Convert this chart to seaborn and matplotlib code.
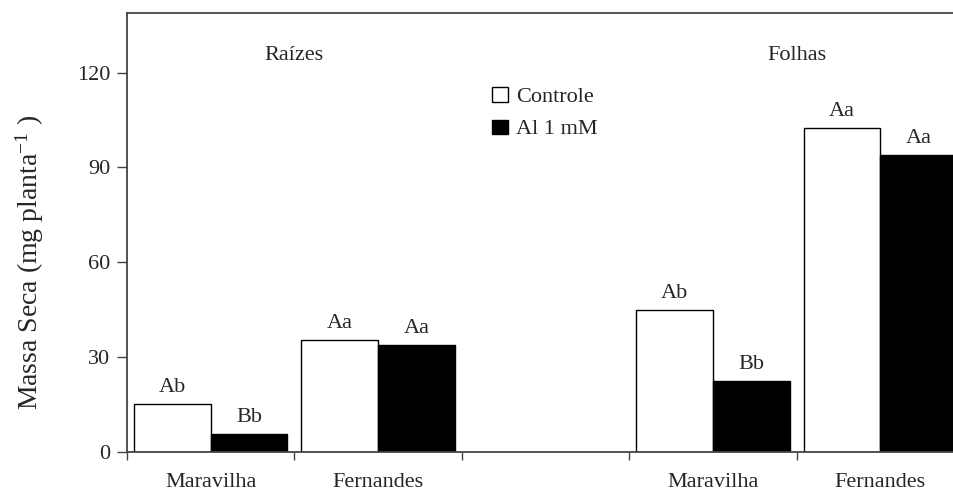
import matplotlib
matplotlib.use("Agg")
import matplotlib.pyplot as plt
from matplotlib.patches import Patch
import numpy as np
import pandas as pd
import seaborn as sns

# Dry mass per plant (mg) for two cultivars, roots and leaves
organs = ["Raízes", "Raízes", "Folhas", "Folhas"]
cultivars = ["Maravilha", "Fernandes", "Maravilha", "Fernandes"]
controle = [15.2, 35.5, 44.8, 102.6]
aluminio = [5.7, 33.9, 22.5, 94.1]
letras_controle = ["Ab", "Aa", "Ab", "Aa"]
letras_aluminio = ["Bb", "Aa", "Bb", "Aa"]
tratamentos = ["Controle", "Al 1 mM"]
yticks = [0, 30, 60, 90, 120]

sns.set_style("ticks")
plt.rcParams["font.family"] = ["Liberation Serif", "DejaVu Serif"]
plt.rcParams["mathtext.fontset"] = "custom"
plt.rcParams["mathtext.rm"] = "Liberation Serif"
plt.rcParams["mathtext.it"] = "Liberation Serif:italic"

slots = [f"{o} {c}" for o, c in zip(organs, cultivars)]
order = slots[:2] + ["-"] + slots[2:]

df = pd.DataFrame({
    "slot": slots * 2,
    "tratamento": [tratamentos[0]] * 4 + [tratamentos[1]] * 4,
    "massa": controle + aluminio,
})

fig = plt.figure(figsize=(9.54, 4.92), dpi=100)
ax = fig.add_axes([127 / 954, 40.3 / 492, 837 / 954, 439 / 492])

sns.barplot(data=df, x="slot", y="massa", hue="tratamento", order=order,
            hue_order=tratamentos, palette={"Controle": "white", "Al 1 mM": "black"},
            edgecolor="black", linewidth=1.0, width=0.916, saturation=1,
            errorbar=None, legend=False, ax=ax)

for cont, letras in zip(ax.containers, [letras_controle, letras_aluminio]):
    ax.bar_label(cont, labels=letras, padding=5, fontsize=16)

ax.set_ylim(0, 139)
ax.set_xlim(-0.5, 4.5)
ax.set_yticks(yticks)
ax.set_xlabel("")
ax.set_ylabel("")

labels = [cultivars[0], cultivars[1], "", cultivars[2], cultivars[3]]
ax.set_xticks(range(len(order)))
ax.set_xticklabels(labels, fontsize=16)
ax.set_xticks(np.arange(-0.5, len(order) + 0.5, 1), minor=True)
ax.tick_params(axis="x", which="major", length=0, pad=15.5)
ax.tick_params(axis="x", which="minor", length=6, width=1, color="#444444", direction="out")
ax.tick_params(axis="y", length=7, width=1, color="#444444", pad=5, labelsize=16)

for side in ["left", "bottom", "top"]:
    ax.spines[side].set_color("#444444")
    ax.spines[side].set_linewidth(1.3)
ax.spines["right"].set_visible(False)
ax.spines["top"].set_visible(True)

ax.text(0.5, 125.6, "Raízes", ha="center", va="center", fontsize=16)
ax.text(3.5, 125.6, "Folhas", ha="center", va="center", fontsize=16)

handles = [Patch(facecolor="white", edgecolor="black", linewidth=1.0),
           Patch(facecolor="black", edgecolor="black", linewidth=1.0)]
ax.legend(handles, tratamentos, loc="upper left", bbox_to_anchor=(0.425, 0.85),
          frameon=False, fontsize=16, handlelength=0.75, handleheight=0.6,
          handletextpad=0.35, labelspacing=0.55, borderaxespad=0)

fig.text(30 / 954, 1 - 262 / 492, "Massa Seca (mg planta$^{-1}$ )", rotation=90,
         ha="center", va="center", fontsize=20)

fig.savefig("out.png", dpi=100)
